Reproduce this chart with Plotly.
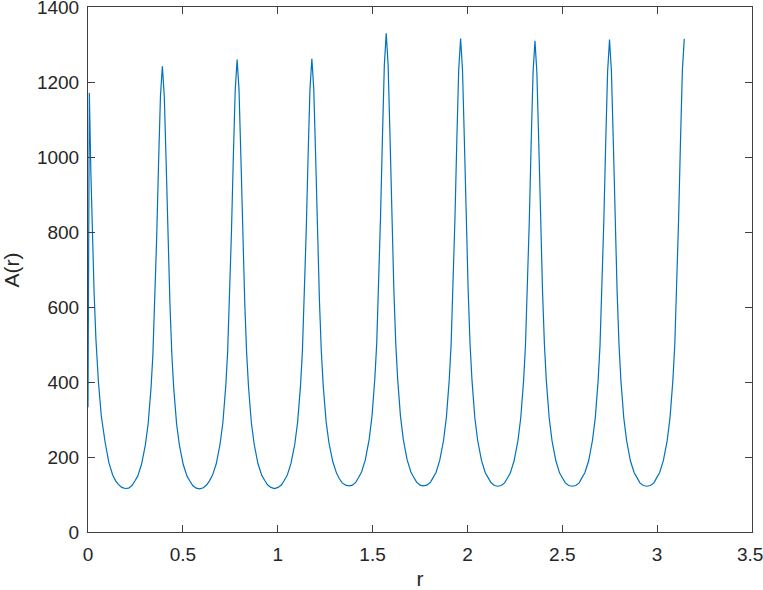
import plotly.graph_objects as go

# values (r, A(r))
r_vals = [
    0, 0.007, 0.015, 0.023, 0.032, 0.042, 0.055, 0.07, 0.09, 0.11, 0.13, 0.145, 0.16, 0.178, 0.196,
    0.214, 0.232, 0.247, 0.262, 0.282, 0.302, 0.317, 0.332, 0.342, 0.352, 0.362, 0.372, 0.382, 0.392,
    0.402, 0.412, 0.422, 0.432, 0.442, 0.452, 0.467, 0.482, 0.502, 0.522, 0.537, 0.552, 0.570, 0.589,
    0.608, 0.626, 0.641, 0.656, 0.676, 0.696, 0.711, 0.726, 0.736, 0.746, 0.756, 0.766, 0.776, 0.786,
    0.796, 0.806, 0.816, 0.826, 0.836, 0.846, 0.861, 0.876, 0.896, 0.916, 0.931, 0.946, 0.964, 0.983,
    1.002, 1.020, 1.035, 1.050, 1.070, 1.090, 1.105, 1.120, 1.130, 1.140, 1.150, 1.160, 1.170, 1.180,
    1.190, 1.200, 1.210, 1.220, 1.230, 1.240, 1.255, 1.270, 1.290, 1.310, 1.325, 1.340, 1.358, 1.376,
    1.394, 1.412, 1.427, 1.442, 1.462, 1.482, 1.497, 1.512, 1.522, 1.532, 1.542, 1.552, 1.562, 1.572,
    1.582, 1.592, 1.602, 1.612, 1.622, 1.632, 1.647, 1.662, 1.682, 1.702, 1.717, 1.732, 1.750, 1.768,
    1.786, 1.804, 1.819, 1.834, 1.854, 1.874, 1.889, 1.904, 1.914, 1.924, 1.934, 1.944, 1.954, 1.964,
    1.974, 1.984, 1.994, 2.004, 2.014, 2.024, 2.039, 2.054, 2.074, 2.094, 2.109, 2.124, 2.142, 2.160,
    2.178, 2.196, 2.211, 2.226, 2.246, 2.266, 2.281, 2.296, 2.306, 2.316, 2.326, 2.336, 2.346, 2.356,
    2.366, 2.376, 2.386, 2.396, 2.406, 2.416, 2.431, 2.446, 2.466, 2.486, 2.501, 2.516, 2.534, 2.553,
    2.571, 2.589, 2.604, 2.619, 2.639, 2.659, 2.674, 2.689, 2.699, 2.709, 2.719, 2.729, 2.739, 2.749,
    2.759, 2.769, 2.779, 2.789, 2.799, 2.809, 2.824, 2.839, 2.859, 2.879, 2.894, 2.909, 2.927, 2.946,
    2.964, 2.983, 2.998, 3.013, 3.033, 3.053, 3.068, 3.083, 3.093, 3.103, 3.113, 3.123, 3.133, 3.143,
]
a_vals = [
    333, 1171, 960, 779, 640, 512, 400, 310, 240, 185, 152, 137, 127, 119, 116,
    117, 124, 136, 149, 180, 231, 288, 383, 472, 606, 785, 984, 1163, 1242,
    1163, 984, 785, 606, 472, 383, 288, 231, 180, 149, 136, 124, 117, 115,
    118, 126, 137, 151, 182, 234, 292, 388, 479, 615, 796, 998, 1179, 1260,
    1179, 998, 796, 615, 479, 388, 292, 234, 182, 151, 138, 126, 119, 116,
    119, 126, 138, 151, 183, 234, 293, 389, 480, 616, 798, 1000, 1181, 1262,
    1181, 1000, 798, 616, 480, 389, 295, 238, 188, 157, 142, 131, 125, 123,
    125, 133, 146, 160, 193, 247, 309, 410, 505, 649, 841, 1053, 1245, 1330,
    1245, 1053, 841, 649, 505, 410, 309, 247, 193, 160, 146, 133, 125, 123,
    125, 132, 145, 158, 191, 244, 305, 405, 500, 642, 832, 1042, 1232, 1316,
    1232, 1042, 832, 642, 500, 405, 305, 244, 191, 158, 145, 132, 124, 122,
    124, 131, 144, 157, 190, 243, 304, 403, 498, 639, 828, 1038, 1226, 1310,
    1226, 1038, 828, 639, 498, 403, 304, 243, 190, 157, 144, 131, 124, 122,
    124, 131, 145, 158, 190, 244, 305, 404, 499, 641, 830, 1040, 1229, 1313,
    1229, 1040, 830, 641, 499, 404, 305, 244, 190, 158, 145, 131, 124, 122,
    124, 131, 145, 158, 191, 244, 305, 405, 500, 641, 831, 1041, 1231, 1315,
]

x_ticks = [0, 0.5, 1, 1.5, 2, 2.5, 3, 3.5]
# thin space after the last label keeps it inside the page edge
x_labels = ['0', '0.5', '1', '1.5', '2', '2.5', '3', '3.5\u2009']
y_ticks = [0, 200, 400, 600, 800, 1000, 1200, 1400]

AXIS = '#404040'
TEXT = '#262626'
FONT = 'Liberation Sans, Arial, sans-serif'

fig = go.Figure()
fig.add_trace(go.Scatter(
    x=r_vals, y=a_vals, mode='lines',
    line=dict(color='#0072BD', width=1.2),
    showlegend=False,
))

axis_style = dict(
    showline=True, linecolor=AXIS, linewidth=1, mirror='ticks',
    ticks='inside', ticklen=7, tickcolor=AXIS, tickwidth=1,
    showgrid=False, zeroline=False, automargin=False,
    ticklabeloverflow='allow',
    tickfont=dict(family=FONT, size=19, color=TEXT),
)

fig.update_xaxes(range=[0, 3.5], tickvals=x_ticks, ticktext=x_labels,
                 ticklabelstandoff=5,
                 title=dict(text='r', font=dict(family=FONT, size=21, color=TEXT), standoff=8),
                 **axis_style)
fig.update_yaxes(range=[0, 1400], tickvals=y_ticks, ticklabelstandoff=4,
                 **axis_style)

# y title placed by hand so it sits near the left edge as in the reference
fig.add_annotation(text='A(r)', xref='paper', yref='paper', x=-0.1145, y=0.5,
                   xanchor='center', yanchor='middle', textangle=-90, showarrow=False,
                   font=dict(family=FONT, size=21, color=TEXT))

fig.update_layout(
    width=763, height=590,
    margin=dict(l=88, r=11, t=7, b=58),
    paper_bgcolor='white', plot_bgcolor='white',
    font=dict(family=FONT, color=TEXT),
)

# the page's default body margin would shift the figure by 8px
fig.write_html("out.html", config={'displayModeBar': False},
               post_script="document.body.style.margin='0';")
